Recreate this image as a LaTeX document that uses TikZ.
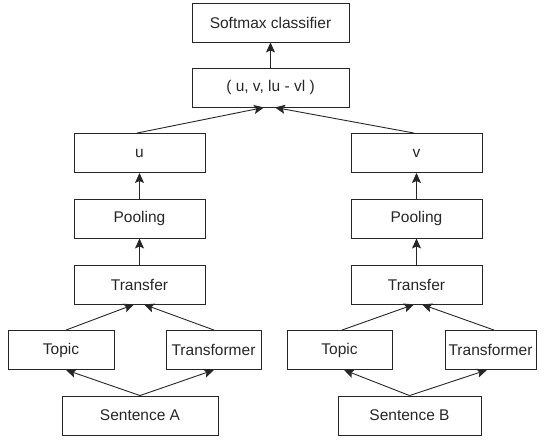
\documentclass[tikz,border=0pt]{standalone}
\usepackage{fontspec}
\setmainfont{Liberation Sans}
\usetikzlibrary{arrows.meta,calc}
\begin{document}
\begin{tikzpicture}[
      x=1pt, y=-1pt,
      box/.style={draw=black!85, line width=0.9pt, inner sep=0, minimum height=39,
        font=\fontsize{15.5}{17}\selectfont, text=black!85},
      wide/.style={box, minimum width=157},
      mid/.style={box, minimum width=131},
      link/.style={-{Stealth[length=10pt, width=9pt, inset=2pt]}, line width=0.9pt, draw=black!85}
    ]
    \useasboundingbox (0,0) rectangle (545,439);
    % top part
    \node[wide] (soft) at (270.5,22.5) {Softmax classifier};
    \node[wide] (cat) at (270.5,87.5) {( u, v, lu - vl )};
    \node[mid] (u) at (139.5,153) {u};
    \node[mid] (v) at (416.5,153) {v};
    % sentence A
    \node[mid] (poolA) at (139.5,218.5) {Pooling};
    \node[mid] (trA) at (139.5,284.5) {Transfer};
    \node[box, minimum width=106] (topA) at (61,350) {Topic};
    \node[box, minimum width=95] (tfA) at (213.5,350) {Transformer};
    \node[box, minimum width=156] (senA) at (140,415.5) {Sentence A};
    % sentence B
    \node[mid] (poolB) at (416.5,218.5) {Pooling};
    \node[mid] (trB) at (416.5,284.5) {Transfer};
    \node[box, minimum width=105] (topB) at (339.5,350) {Topic};
    \node[box, minimum width=91] (tfB) at (490.5,350) {Transformer};
    \node[box, minimum width=143] (senB) at (409.5,415.5) {Sentence B};
    % connectors
    \draw[link] (senA.north) -- ($(topA.south)+(5,0)$);
    \draw[link] (senA.north) -- ($(tfA.south)+(0.5,0)$);
    \draw[link] ($(topA.north)+(5,0)$) -- ($(trA.south)+(-5.5,0)$);
    \draw[link] ($(tfA.north)+(0.5,0)$) -- ($(trA.south)+(4.5,0)$);
    \draw[link] (trA) -- (poolA);
    \draw[link] (poolA) -- (u);
    \draw[link] (senB.north) -- ($(topB.south)+(4.5,0)$);
    \draw[link] (senB.north) -- ($(tfB.south)+(-3.5,0)$);
    \draw[link] ($(topB.north)+(2.5,0)$) -- ($(trB.south)+(-2.5,0)$);
    \draw[link] ($(tfB.north)+(3.5,0)$) -- ($(trB.south)+(5.5,0)$);
    \draw[link] (trB) -- (poolB);
    \draw[link] (poolB) -- (v);
    \draw[link] ($(u.north)+(-2.5,0)$) -- ($(cat.south)+(-6.5,0)$);
    \draw[link] ($(v.north)+(-2.5,0)$) -- ($(cat.south)+(4.5,0)$);
    \draw[link] (cat) -- (soft);
\end{tikzpicture}
\end{document}
